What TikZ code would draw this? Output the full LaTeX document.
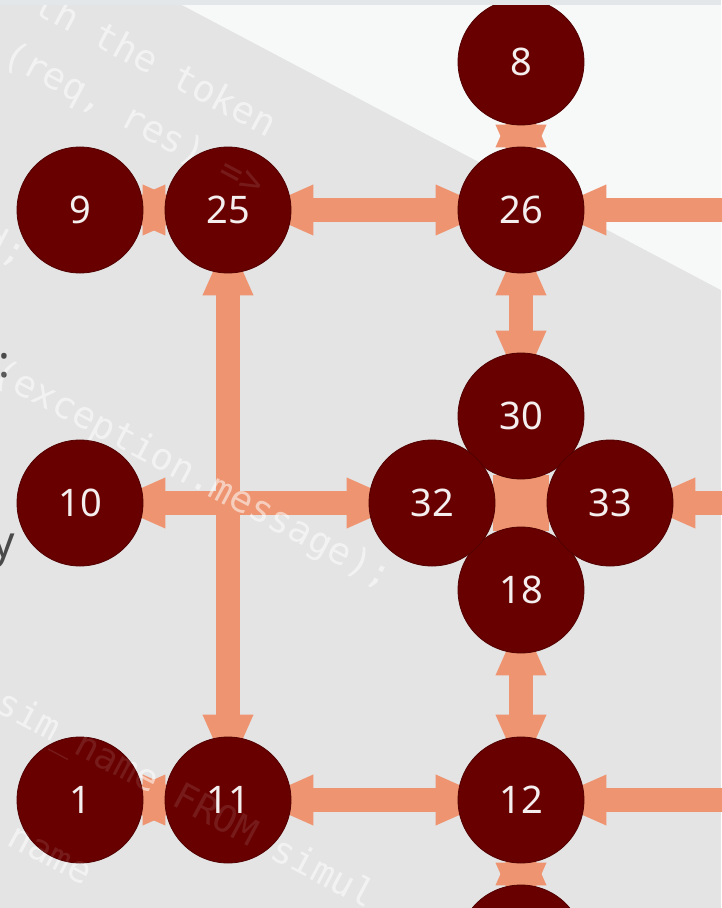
\documentclass[tikz,border=0pt]{standalone}
\usepackage{fontspec}
\setmainfont{Noto Sans}
\newfontfamily\codefont{DejaVu Sans Mono}
\usetikzlibrary{arrows.meta}
\pgfdeclarelayer{bg}
\pgfdeclarelayer{edges}
\pgfdeclarelayer{code}
\pgfdeclarelayer{fg}
\pgfsetlayers{bg,edges,code,main,fg}
\definecolor{nodered}{HTML}{680000}
\definecolor{nodeedge}{HTML}{520000}
\definecolor{nodetext}{HTML}{F4EEEE}
\definecolor{salmon}{HTML}{EE9470}
\definecolor{bggray}{HTML}{E4E4E4}
\definecolor{bglight}{HTML}{F7F8F8}
\definecolor{topstrip}{HTML}{E3E7E9}
\definecolor{darktext}{HTML}{4A4A4A}
\tikzset{
  nd/.style={circle, fill=nodered, draw=nodeedge, line width=0.8pt,
    minimum size=126pt, inner sep=0pt, text=nodetext,
    font=\fontsize{38}{38}\selectfont},
  conn/.style={draw=salmon, line width=24pt, shorten <=-38pt, shorten >=-38pt,
    {Triangle[width=46pt,length=60pt]}-{Triangle[width=46pt,length=60pt]}},
  connin/.style={draw=salmon, line width=24pt, shorten >=-38pt,
    -{Triangle[width=46pt,length=60pt]}},
  codetxt/.style={font=\codefont\fontsize{37}{37}\selectfont, rotate=-28,
    anchor=west, inner sep=0pt, text=white},
  sidetxt/.style={font=\fontsize{44}{44}\selectfont, text=darktext,
    inner sep=0pt, anchor=base east}
}
\newcommand\codetexts[2]{%
  \node[codetxt, text opacity=#1] (ca#2) at (38,0) {th the token};
  \node[codetxt, text opacity=#1] (cb#2) at (5,53) {(req, res) =>};
  \node[codetxt, text opacity=#1] (cc#2) at (-15,236) {d;};
  \node[codetxt, text opacity=#1] (cd#2) at (-5,371) {(exception.message);};
  \node[codetxt, text opacity=#1] (ce#2) at (-2,702) {sim\_name FROM simul};
  \node[codetxt, text opacity=#1] (cf#2) at (10,835) {name};
}
\begin{document}
\begin{tikzpicture}[x=1pt,y=-1pt]
\useasboundingbox (0,0) rectangle (721,908);
\begin{pgfonlayer}{bg}
  \fill[bggray] (0,0) rectangle (721,908);
  \fill[bglight] (182,5) -- (721,5) -- (721,290) -- cycle;
\end{pgfonlayer}

% nodes
\node[nd] (n8)  at (521,62)  {8};
\node[nd] (n26) at (521,210) {26};
\node[nd] (n9)  at (80,210)  {9};
\node[nd] (n25) at (228,210) {25};
\node[nd] (n10) at (80,503)  {10};
\node[nd] (n30) at (521,416) {30};
\node[nd] (n18) at (521,590) {18};
\node[nd] (n32) at (432,503) {32};
\node[nd] (n33) at (610,503) {33};
\node[nd] (n1)  at (80,800)  {1};
\node[nd] (n11) at (228,800) {11};
\node[nd] (n12) at (521,800) {12};
\node[nd] (n13) at (521,948) {};

\coordinate (r26) at (760,210);
\coordinate (r33) at (760,503);
\coordinate (r12) at (760,800);

\node[sidetxt] (sa) at (10,377) {:};
\node[sidetxt] (sb) at (15,557) {y};

\begin{pgfonlayer}{edges}
  \fill[salmon] (493,475) rectangle (549,531);
  \draw[conn] (n9) -- (n25);
  \draw[conn] (n25) -- (n26);
  \draw[conn] (n8) -- (n26);
  \draw[conn] (n26) -- (n30);
  \draw[conn] (n25) -- (n11);
  \draw[conn] (n10) -- (n32);
  \draw[conn] (n30) -- (n18);
  \draw[conn] (n32) -- (n33);
  \draw[conn] (n18) -- (n12);
  \draw[conn] (n1) -- (n11);
  \draw[conn] (n11) -- (n12);
  \draw[conn] (n12) -- (n13);
  \draw[connin] (r26) -- (n26);
  \draw[connin] (r33) -- (n33);
  \draw[connin] (r12) -- (n12);
\end{pgfonlayer}

\begin{pgfonlayer}{code}
  \codetexts{0.5}{a}
\end{pgfonlayer}
\begin{pgfonlayer}{fg}
  \codetexts{0.1}{b}
  \fill[topstrip] (0,0) rectangle (721,5);
\end{pgfonlayer}
\end{tikzpicture}
\end{document}
